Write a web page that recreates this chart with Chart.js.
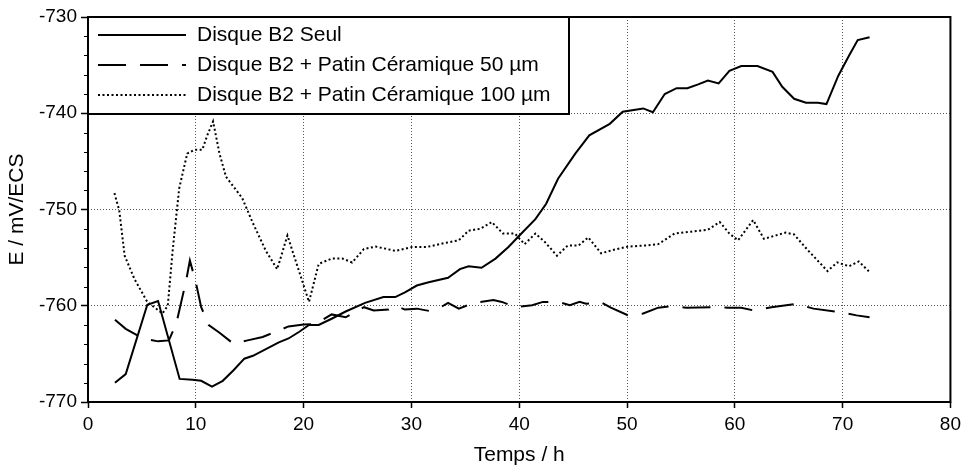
<!DOCTYPE html>
<html lang="fr">
<head>
  <meta charset="UTF-8">
  <title>Disque B2 - potentiel</title>
  <style>
    * { margin: 0; padding: 0; box-sizing: border-box; }
    body { background: #fff; width: 966px; height: 468px; overflow: hidden; }
    .wrap { position: relative; width: 966px; height: 468px; }
  </style>
</head>
<body>
  <div class="wrap"><canvas id="chart"></canvas></div>

  <script src="https://cdn.jsdelivr.net/npm/chart.js"></script>
  <script>
    // Disque B2 Seul
    const seulTemps = [2.5, 3.5, 5.5, 6.5, 8.5, 9.7, 10.5, 11.5, 12.5, 13.5, 14.5, 15.3, 17.7, 18.6, 19.6,
      20.5, 21.4, 22.6, 23.9, 25.7, 27.4, 28.5, 29.4, 30.5, 31.6, 33.4, 34.5, 35.3, 36.5, 37.8,
      39.0, 40.2, 41.5, 42.5, 43.6, 45.2, 46.5, 48.4, 49.6, 51.5, 52.4, 53.5, 54.6, 55.6, 56.6,
      57.5, 58.5, 59.5, 60.6, 62.1, 63.5, 64.4, 65.5, 66.6, 67.7, 68.5, 69.6, 70.6, 71.4, 72.5];
    const seulE = [-768.0, -767.1, -759.9, -759.5, -767.6, -767.7, -767.8, -768.4, -767.8, -766.7, -765.5, -765.2, -763.8, -763.4, -762.7,
      -762.0, -762.0, -761.35, -760.6, -759.7, -759.1, -759.1, -758.6, -757.9, -757.55, -757.1, -756.2, -755.9, -756.05, -755.1,
      -753.9, -752.5, -751.0, -749.4, -746.8, -744.2, -742.3, -741.1, -739.85, -739.5, -739.9, -738.0, -737.4, -737.4, -737.0,
      -736.6, -736.9, -735.6, -735.1, -735.1, -735.7, -737.25, -738.5, -738.9, -738.9, -739.05, -736.1, -734.0, -732.4, -732.1];

    // Disque B2 + Patin Céramique 50 µm
    const p50Temps = [2.5, 3.5, 5.1, 6.5, 7.5, 8.2, 9.1, 9.45, 10.0, 10.5, 11.2, 12.2, 13.5, 14.8, 16.2,
      18.6, 20.0, 21.1, 22.6, 23.9, 25.0, 25.6, 26.5, 27.9, 28.5, 29.4, 30.5, 31.7, 32.5, 33.4,
      34.4, 35.8, 37.6, 38.4, 39.6, 41.2, 42.2, 43.6, 44.7, 45.6, 46.2, 47.5, 48.5, 50.1, 51.5,
      52.9, 54.1, 55.5, 58.0, 59.4, 60.6, 61.8, 63.4, 65.7, 67.3, 69.7, 71.3, 72.5];
    const p50E = [-761.45, -762.4, -763.4, -763.7, -763.6, -761.8, -757.4, -755.3, -757.55, -760.15, -762.0, -762.8, -763.95, -763.6, -763.25,
      -762.15, -761.95, -761.9, -760.9, -761.2, -760.5, -760.15, -760.5, -760.4, -760.0, -760.4, -760.3, -760.55, -760.3, -759.7,
      -760.3, -759.7, -759.4, -759.6, -760.15, -759.95, -759.6, -759.6, -759.95, -759.6, -759.8, -759.6, -760.2, -761.0, -760.8,
      -760.2, -760.05, -760.2, -760.15, -760.2, -760.2, -760.5, -760.15, -759.8, -760.3, -760.65, -761.0, -761.2];

    // Disque B2 + Patin Céramique 100 µm
    const p100Temps = [2.45, 2.9, 3.4, 4.3, 5.5, 6.9, 7.4, 7.85, 8.46, 9.2, 9.85, 10.6, 11.1, 11.6, 12.2,
      12.8, 14.3, 15.25, 16.5, 17.55, 18.5, 19.4, 20.5, 21.4, 22.6, 23.6, 24.5, 25.6, 26.7, 28.5,
      30.05, 31.4, 33.0, 34.4, 35.3, 36.4, 37.45, 38.5, 39.6, 40.5, 41.5, 42.4, 43.5, 44.5, 45.5,
      46.4, 47.6, 48.7, 50.1, 51.6, 52.9, 54.4, 55.95, 57.5, 58.6, 59.5, 60.3, 61.7, 62.7, 64.7,
      65.5, 66.75, 68.6, 69.5, 70.6, 71.5, 72.5];
    const p100E = [-748.3, -750.1, -754.8, -757.2, -759.6, -760.8, -760.0, -754.3, -747.8, -744.2, -743.8, -743.8, -742.2, -740.85, -744.2,
      -746.6, -748.8, -751.3, -754.3, -756.2, -752.7, -755.8, -759.6, -755.65, -755.1, -755.1, -755.5, -754.1, -753.85, -754.3,
      -753.9, -753.9, -753.5, -753.2, -752.2, -752.0, -751.3, -752.5, -752.5, -753.6, -752.5, -753.4, -754.8, -753.75, -753.75,
      -752.9, -754.55, -754.2, -753.85, -753.75, -753.6, -752.5, -752.3, -752.1, -751.3, -752.5, -753.2, -751.1, -753.05, -752.4,
      -752.6, -754.2, -756.4, -755.5, -755.9, -755.4, -756.5];

    const labels = ['Disque B2 Seul', 'Disque B2 + Patin Céramique 50 µm', 'Disque B2 + Patin Céramique 100 µm'];
    const xTitle = 'Temps / h';
    const yTitle = 'E / mV/ECS';

    const FONT = "'Liberation Sans', Arial, sans-serif";
    const pts = (xs, ys) => xs.map((x, i) => ({ x: x, y: ys[i] }));

    // frame, minor ticks on the y axis and the boxed legend
    const framePlugin = {
      id: 'frame',
      afterDraw(chart) {
        const { ctx, chartArea: a } = chart;
        const y = chart.scales.y;
        ctx.save();
        ctx.strokeStyle = '#000';
        ctx.lineWidth = 1;
        for (let v = y.min; v <= y.max; v += 2) {
          if (v % 10 === 0) continue;
          const py = Math.round(y.getPixelForValue(v)) + 0.5;
          ctx.beginPath();
          ctx.moveTo(a.left - 4, py);
          ctx.lineTo(a.left, py);
          ctx.stroke();
        }
        // legend
        const lx = a.left, ly = a.top, lw = 481, lh = 97;
        ctx.fillStyle = '#fff';
        ctx.fillRect(lx, ly, lw, lh);
        ctx.lineWidth = 2;
        ctx.strokeRect(lx, ly, lw, lh);
        ctx.font = '21px ' + FONT;
        ctx.textBaseline = 'middle';
        ctx.fillStyle = '#000';
        chart.data.datasets.forEach((ds, i) => {
          const ry = ly + 18 + i * 30;
          ctx.setLineDash(ds.borderDash || []);
          ctx.lineWidth = ds.borderWidth;
          ctx.beginPath();
          ctx.moveTo(lx + 10, ry);
          ctx.lineTo(lx + 98, ry);
          ctx.stroke();
          ctx.setLineDash([]);
          ctx.fillText(ds.label, lx + 109, ry);
        });
        // plot frame
        ctx.lineWidth = 2;
        ctx.strokeRect(a.left, a.top, a.right - a.left, a.bottom - a.top);
        ctx.restore();
      }
    };

    const gridColor = c => (c.tick && (c.tick.value === c.scale.min || c.tick.value === c.scale.max)) ? 'rgba(0,0,0,0)' : '#555';

    new Chart(document.getElementById('chart'), {
      type: 'line',
      data: {
        datasets: [
          { label: labels[0], data: pts(seulTemps, seulE), borderColor: '#000', borderWidth: 2, borderDash: [] },
          { label: labels[1], data: pts(p50Temps, p50E), borderColor: '#000', borderWidth: 2, borderDash: [28, 14] },
          { label: labels[2], data: pts(p100Temps, p100E), borderColor: '#000', borderWidth: 2, borderDash: [2, 2.5] }
        ]
      },
      options: {
        responsive: true,
        maintainAspectRatio: false,
        animation: false,
        layout: { padding: { top: 17, right: 13, left: 0, bottom: 0 } },
        elements: { point: { radius: 0 }, line: { tension: 0, fill: false } },
        plugins: { legend: { display: false }, tooltip: { enabled: false } },
        scales: {
          x: {
            type: 'linear', min: 0, max: 80,
            ticks: { stepSize: 10, color: '#000', font: { family: FONT, size: 19 }, padding: 5, maxRotation: 0 },
            grid: { color: gridColor, lineWidth: 1, tickLength: 6, tickColor: '#000', tickWidth: 1.5, tickBorderDash: [] },
            border: { display: false, dash: [1, 2] },
            title: { display: true, text: xTitle, color: '#000', font: { family: FONT, size: 21 }, padding: { top: 0, bottom: 0 } },
            afterFit(s) { s.height = 66; }
          },
          y: {
            min: -770, max: -730,
            ticks: { stepSize: 10, color: '#000', font: { family: FONT, size: 19 }, padding: 4 },
            grid: { color: gridColor, lineWidth: 1, tickLength: 7, tickColor: '#000', tickWidth: 1.5, tickBorderDash: [] },
            border: { display: false, dash: [1, 2] },
            title: { display: true, text: yTitle, color: '#000', font: { family: FONT, size: 21 }, padding: { top: 5, bottom: 0 } },
            afterFit(s) { s.width = 88; }
          }
        }
      },
      plugins: [framePlugin]
    });
  </script>
</body>
</html>
